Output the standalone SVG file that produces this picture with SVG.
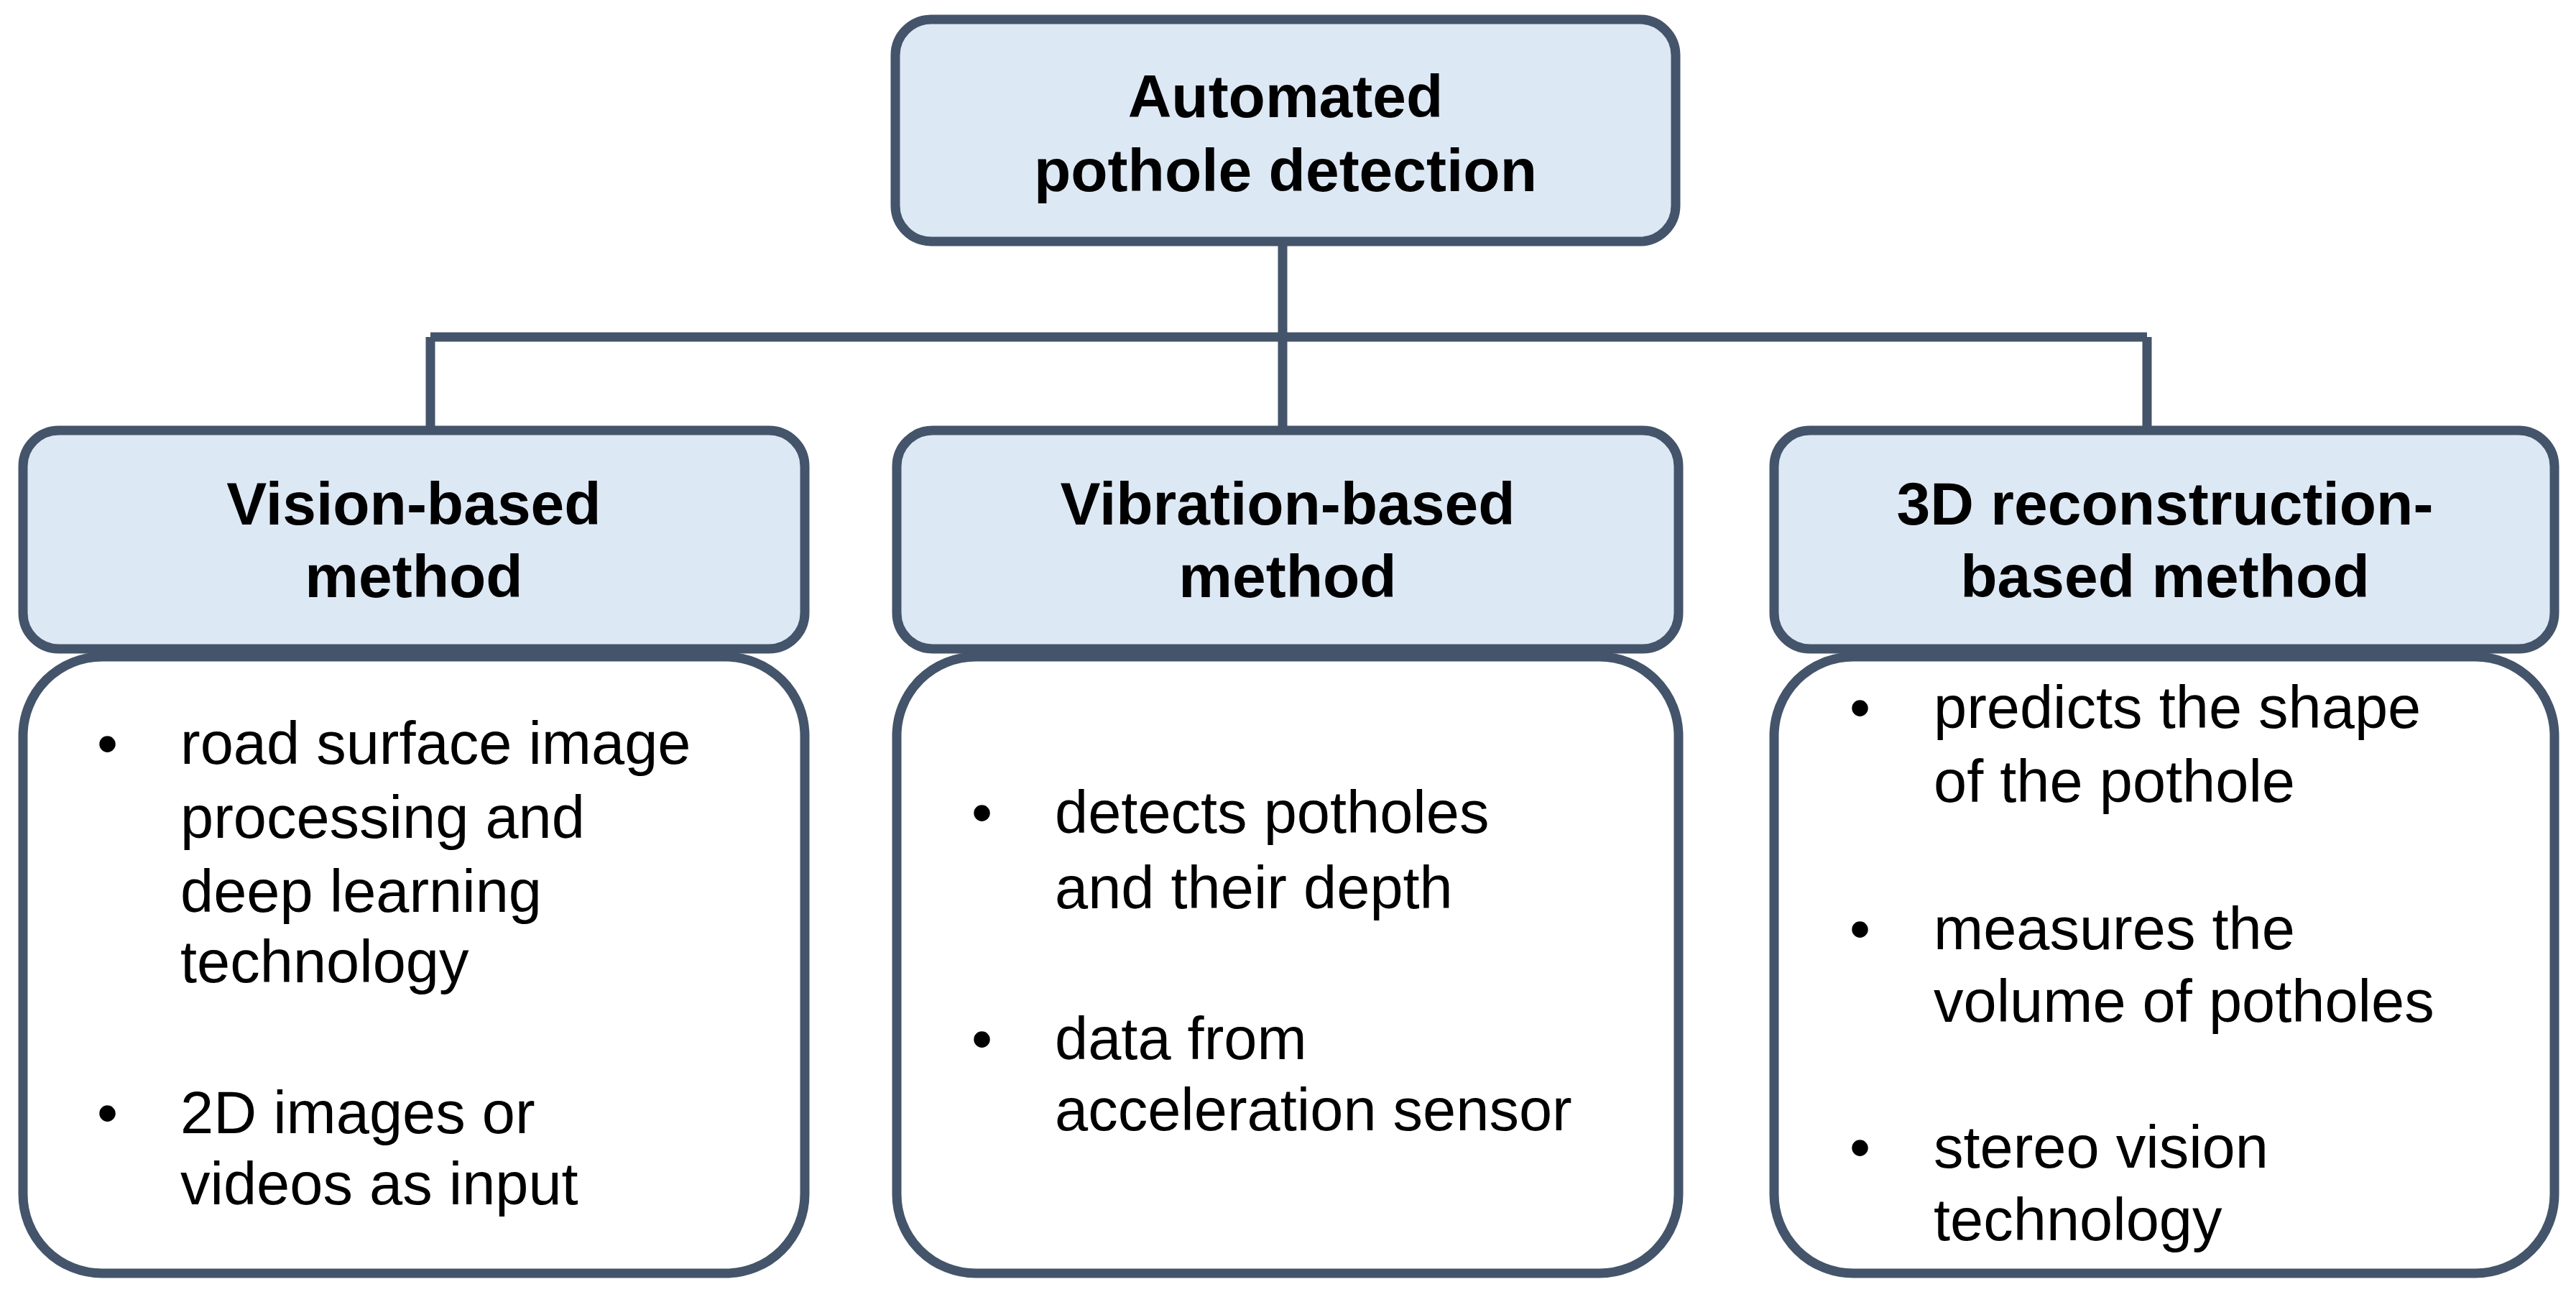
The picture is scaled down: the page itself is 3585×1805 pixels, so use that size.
<svg xmlns="http://www.w3.org/2000/svg" width="3585" height="1805" viewBox="0 0 3585 1805">
<style>
.hd{fill:#DDE8F5;stroke:#44546A;stroke-width:13}
.bd{fill:#FFFFFF;stroke:#44546A;stroke-width:13}
.ht{font-family:"Liberation Sans",Arial,sans-serif;font-weight:bold;font-size:84px;fill:#000;text-anchor:middle}
.bt{font-family:"Liberation Sans",Arial,sans-serif;font-size:83px;fill:#000}
.cn{fill:none;stroke:#44546A;stroke-width:13}
</style>
<rect width="3585" height="1805" fill="#fff"/>
<g id="connectors">
<path class="cn" d="M1785 336V469M599 469H2988M599 469V599M1785 469V599M2988 469V599"/>
</g>
<g id="root">
<rect class="hd" x="1246" y="27" width="1086" height="309" rx="50"/>
<text class="ht" x="1789" y="163">Automated</text>
<text class="ht" x="1789" y="266">pothole detection</text>
</g>
<g id="vision-head">
<rect class="hd" x="32" y="599" width="1088" height="304" rx="50"/>
<text class="ht" x="576" y="730">Vision-based</text>
<text class="ht" x="576" y="831">method</text>
</g>
<g id="vibration-head">
<rect class="hd" x="1248" y="599" width="1088" height="304" rx="50"/>
<text class="ht" x="1792" y="730">Vibration-based</text>
<text class="ht" x="1792" y="831">method</text>
</g>
<g id="recon-head">
<rect class="hd" x="2469" y="599" width="1086" height="304" rx="50"/>
<text class="ht" x="3013" y="730">3D reconstruction-</text>
<text class="ht" x="3013" y="831">based method</text>
</g>
<g id="vision-body">
<rect class="bd" x="32" y="914" width="1088" height="858" rx="110"/>
<text class="bt" x="135" y="1063">•</text>
<text class="bt" x="251" y="1063">road surface image</text>
<text class="bt" x="251" y="1166">processing and</text>
<text class="bt" x="251" y="1269">deep learning</text>
<text class="bt" x="251" y="1367">technology</text>
<text class="bt" x="135" y="1577">•</text>
<text class="bt" x="251" y="1577">2D images or</text>
<text class="bt" x="251" y="1676">videos as input</text>
</g>
<g id="vibration-body">
<rect class="bd" x="1248" y="914" width="1088" height="858" rx="110"/>
<text class="bt" x="1352" y="1159">•</text>
<text class="bt" x="1468" y="1159">detects potholes</text>
<text class="bt" x="1468" y="1264">and their depth</text>
<text class="bt" x="1352" y="1474">•</text>
<text class="bt" x="1468" y="1474">data from</text>
<text class="bt" x="1468" y="1573">acceleration sensor</text>
</g>
<g id="recon-body">
<rect class="bd" x="2469" y="914" width="1086" height="858" rx="110"/>
<text class="bt" x="2574" y="1013">•</text>
<text class="bt" x="2691" y="1013">predicts the shape</text>
<text class="bt" x="2691" y="1116">of the pothole</text>
<text class="bt" x="2574" y="1321">•</text>
<text class="bt" x="2691" y="1321">measures the</text>
<text class="bt" x="2691" y="1422">volume of potholes</text>
<text class="bt" x="2574" y="1625">•</text>
<text class="bt" x="2691" y="1625">stereo vision</text>
<text class="bt" x="2691" y="1726">technology</text>
</g>
</svg>
